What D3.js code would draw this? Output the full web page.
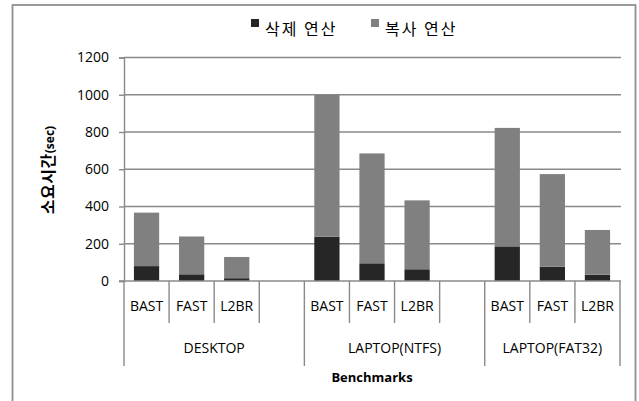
<!DOCTYPE html>
<html>
<head>
<meta charset="utf-8">
<script src="https://cdn.jsdelivr.net/npm/d3@7"></script>
<style>
  body { margin: 0; background: #fff; }
  svg { display: block; }
  text { font-family: "Open Sans", "Noto Sans CJK KR", sans-serif; fill: #000; }
  .kr { font-family: "Noto Sans CJK KR", sans-serif; }
</style>
</head>
<body>
<svg id="chart" width="639" height="401"></svg>
<script>
// groups of machines, each with the same benchmarks
var groups = ['DESKTOP', 'LAPTOP(NTFS)', 'LAPTOP(FAT32)'];
var benchmarks = ['BAST', 'FAST', 'L2BR'];
// seconds, in the order group x benchmark
var deleteOps = [80, 36, 15, 238, 95, 63, 186, 77, 34];
var copyOps = [287, 203, 114, 762, 590, 370, 636, 497, 240];
var yTicks = [0, 200, 400, 600, 800, 1000, 1200];
var seriesNames = ['삭제 연산', '복사 연산'];
var seriesColors = ['#262626', '#808080'];

var svg = d3.select('#chart');
var plotLeft = 124, plotRight = 620, plotTop = 57.5, plotBottom = 281;
var lineColor = '#8a8a8a';

// slots: every group gets its benchmarks, plus one empty slot between groups
var slots = [];
groups.forEach(function (g, gi) {
    benchmarks.forEach(function (b) { slots.push({ key: g + '|' + b, group: g, label: b }); });
    if (gi < groups.length - 1) slots.push({ key: g + '|gap', group: g, label: '' });
});

var x = d3.scaleBand().domain(slots.map(function (s) { return s.key; })).range([plotLeft, plotRight]);
var y = d3.scaleLinear().domain([0, 1200]).range([plotBottom, plotTop]);

// chart border
svg.append('rect')
    .attr('x', 12.5).attr('y', 5).attr('width', 623).attr('height', 405)
    .attr('fill', 'none').attr('stroke', '#8f8f8f').attr('stroke-width', 1.8);

// gridlines
svg.append('g').selectAll('line').data(yTicks.slice(1)).enter().append('line')
    .attr('x1', plotLeft).attr('x2', plotRight + 1)
    .attr('y1', function (d) { return y(d); }).attr('y2', function (d) { return y(d); })
    .attr('stroke', lineColor).attr('stroke-width', 1.4);

// y axis
var yAxis = svg.append('g').attr('transform', 'translate(' + plotLeft + ',0)')
    .call(d3.axisLeft(y).tickValues(yTicks).tickSize(5).tickPadding(10).tickFormat(d3.format('d')));
yAxis.select('.domain').attr('stroke', lineColor).attr('stroke-width', 1.4);
yAxis.selectAll('.tick line').attr('stroke', lineColor).attr('stroke-width', 1.4);
yAxis.selectAll('.tick text')
    .style('font-family', '"Open Sans", sans-serif').style('font-size', '14px').attr('fill', '#000');

// stacked bars
var rows = [];
var i = 0;
slots.forEach(function (s) {
    if (s.label === '') return;
    rows.push({ key: s.key, del: deleteOps[i], copy: copyOps[i] });
    i++;
});
var stack = d3.stack().keys(['del', 'copy'])(rows);
var bw = x.bandwidth() * 0.56;
svg.append('g').selectAll('g').data(stack).enter().append('g')
    .attr('fill', function (d, k) { return seriesColors[k]; })
    .selectAll('rect').data(function (d) { return d; }).enter().append('rect')
    .attr('x', function (d) { return x(d.data.key) + (x.bandwidth() - bw) / 2; })
    .attr('width', bw)
    .attr('y', function (d) { return y(d[1]); })
    .attr('height', function (d) { return y(d[0]) - y(d[1]); });

// baseline
svg.append('line').attr('x1', plotLeft - 5).attr('x2', plotRight + 1)
    .attr('y1', plotBottom).attr('y2', plotBottom)
    .attr('stroke', lineColor).attr('stroke-width', 1.4);

// category separators: short between slots, long between groups
var bounds = slots.map(function (s, k) {
    var isGroupStart = k === 0 || slots[k - 1].group !== s.group;
    return { x: x(s.key), long: isGroupStart };
});
bounds.push({ x: plotRight, long: true });
svg.append('g').selectAll('line').data(bounds).enter().append('line')
    .attr('x1', function (d) { return d.x; }).attr('x2', function (d) { return d.x; })
    .attr('y1', plotBottom).attr('y2', function (d) { return d.long ? 366 : 323; })
    .attr('stroke', lineColor).attr('stroke-width', 1.4);

// benchmark labels
svg.append('g').selectAll('text').data(slots.filter(function (s) { return s.label; })).enter().append('text')
    .attr('x', function (d) { return x(d.key) + x.bandwidth() / 2; })
    .attr('y', 311).attr('text-anchor', 'middle').style('font-size', '14px')
    .text(function (d) { return d.label; });

// group labels
svg.append('g').selectAll('text').data(groups).enter().append('text')
    .attr('x', function (g) {
        var s = slots.filter(function (d) { return d.group === g; });
        var gi = groups.indexOf(g);
        var end = gi < groups.length - 1 ? x(slots[slots.indexOf(s[s.length - 1]) + 1].key) : plotRight;
        return (x(s[0].key) + end) / 2;
    })
    .attr('y', 353).attr('text-anchor', 'middle').style('font-size', '14px')
    .text(function (g) { return g; });

// x axis title
svg.append('text').attr('x', (plotLeft + plotRight) / 2).attr('y', 382)
    .attr('text-anchor', 'middle').style('font-size', '13px').style('font-weight', 'bold')
    .text('Benchmarks');

// y axis title
var yt = svg.append('text').attr('transform', 'translate(54,170) rotate(-90)')
    .attr('text-anchor', 'middle').style('font-weight', 'bold');
yt.append('tspan').attr('class', 'kr').style('font-size', '16px').style('letter-spacing', '0.5px').text('소요시간');
yt.append('tspan').style('font-size', '12px').text('(sec)');

// legend
var legend = svg.append('g').selectAll('g').data(seriesNames).enter().append('g')
    .attr('transform', function (d, k) { return 'translate(' + (251 + k * 120) + ',0)'; });
legend.append('rect').attr('x', 0).attr('y', 19).attr('width', 8).attr('height', 8)
    .attr('fill', function (d, k) { return seriesColors[k]; });
legend.append('text').attr('class', 'kr').attr('x', 14).attr('y', 35)
    .style('font-size', '16px').style('letter-spacing', '2px').text(function (d) { return d; });
</script>
</body>
</html>
